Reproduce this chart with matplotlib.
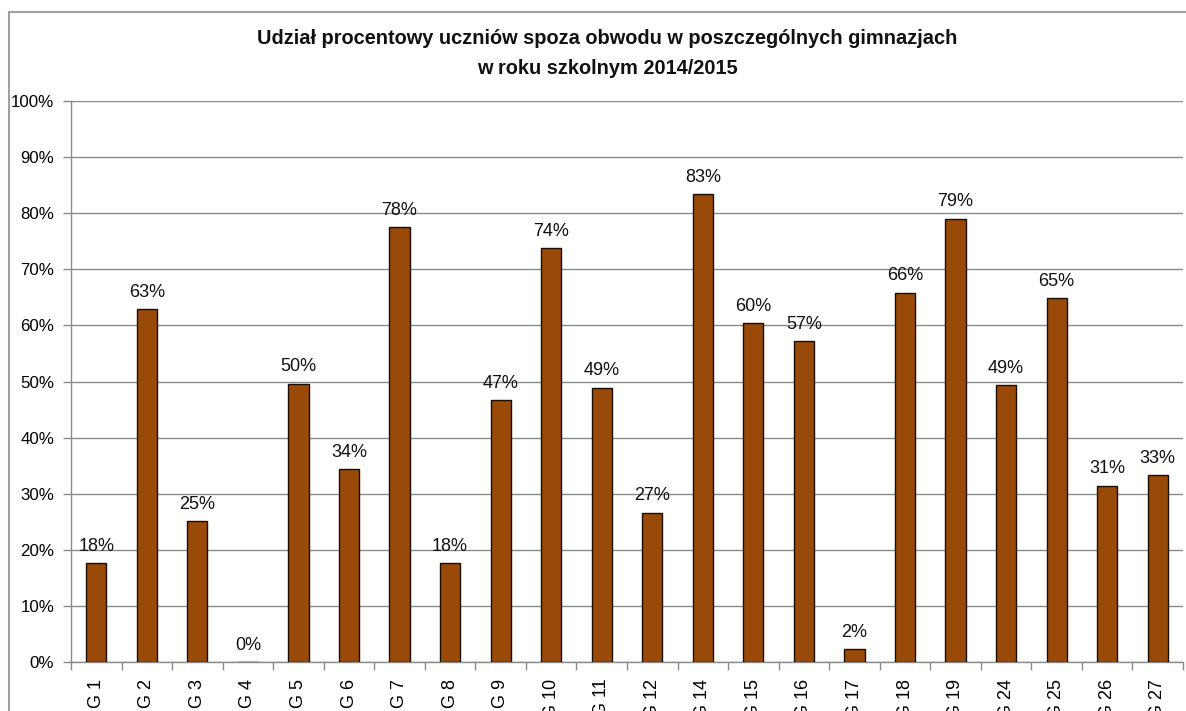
import matplotlib
matplotlib.use("Agg")
import matplotlib.pyplot as plt
from matplotlib.patches import Rectangle
import numpy as np

plt.rcParams['font.family'] = ['Liberation Sans', 'DejaVu Sans']

categories = ["G 1", "G 2", "G 3", "G 4", "G 5", "G 6", "G 7", "G 8", "G 9", "G 10", "G 11",
              "G 12", "G 14", "G 15", "G 16", "G 17", "G 18", "G 19", "G 24", "G 25", "G 26", "G 27"]
values = [17.6, 62.9, 25.1, 0.0, 49.6, 34.4, 77.5, 17.6, 46.7, 73.8, 48.9,
          26.6, 83.4, 60.4, 57.2, 2.3, 65.8, 79.0, 49.3, 64.8, 31.4, 33.3]
yticks = [0, 10, 20, 30, 40, 50, 60, 70, 80, 90, 100]
title_lines = ["Udział procentowy uczniów spoza obwodu w poszczególnych gimnazjach",
               "w roku szkolnym 2014/2015"]

W, H = 1186, 711
fig = plt.figure(figsize=(W / 100, H / 100), dpi=100)
left, right, top, bottom = 71, 1183, 101, 662
ax = fig.add_axes([left / W, 1 - bottom / H, (right - left) / W, (bottom - top) / H])

x = np.arange(len(categories))
ax.bar(x, values, width=0.4, color="#994A08", edgecolor="#1a0d00", linewidth=1.0, zorder=3)

for xi, v in zip(x, values):
    ax.text(xi, v + 1.5, f"{v:.0f}%", ha="center", va="bottom", fontsize=13, color="#111111")

ax.set_xlim(-0.5, len(categories) - 0.5)
ax.set_ylim(0, 100)
ax.set_yticks(yticks)
ax.set_yticklabels([f"{t}%" for t in yticks], fontsize=12.2)
ax.yaxis.grid(True, color="#8a8a8a", linewidth=1.0, zorder=0)
ax.set_axisbelow(True)

ax.set_xticks(x)
ax.set_xticklabels(categories, rotation=90, fontsize=13, va="top")
ax.set_xticks(np.arange(-0.5, len(categories), 1.0), minor=True)
ax.tick_params(axis="x", which="major", length=0, pad=12)
ax.tick_params(axis="x", which="minor", length=6, color="#8a8a8a", width=1.0)
ax.tick_params(axis="y", length=6, color="#8a8a8a", width=1.0, pad=6)

for s in ["top", "right"]:
    ax.spines[s].set_visible(False)
for s in ["left", "bottom"]:
    ax.spines[s].set_color("#8a8a8a")
    ax.spines[s].set_linewidth(1.0)

for line, yp in zip(title_lines, [38, 68]):
    fig.text(607 / W, 1 - yp / H, line, ha="center", va="center", fontsize=14.4,
             fontweight="bold", color="#111111")

border = Rectangle((9 / W, -0.2), 1.2, 1.2 - 12 / H, transform=fig.transFigure,
                   fill=False, edgecolor="#a0a0a0", linewidth=1.5, clip_on=False)
fig.patches.append(border)

fig.savefig("out.png", dpi=100)
